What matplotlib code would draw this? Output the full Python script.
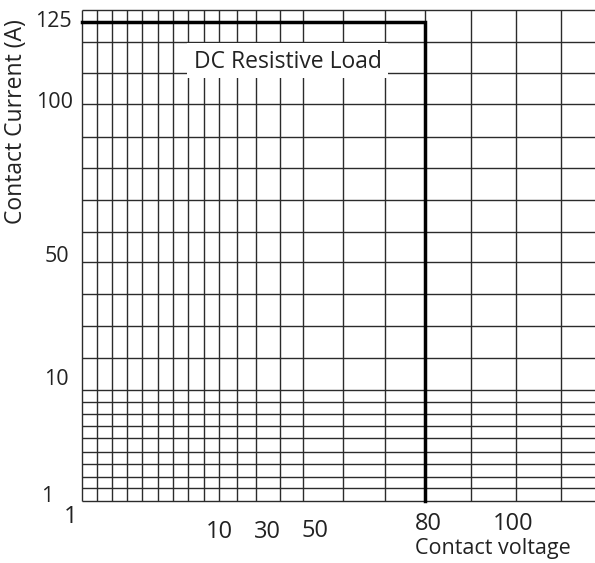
import numpy as np
import matplotlib.pyplot as plt
from matplotlib.patches import Rectangle

# chart values
volt_ticks = [1, 10, 30, 50, 80, 100]
volt_labels = ["1", "10", "30", "50", "80", "100"]
current_ticks = [1, 10, 50, 100, 125]
current_labels = ["1", "10", "50", "100", "125"]
# safe operating boundary (DC resistive load)
boundary_voltage = [1, 80, 80]
boundary_current = [125, 125, 1]
region_label = "DC Resistive Load"

# graph paper layout (pixels from bottom-left corner of the grid)
W, H = 513.3, 490.7
x_anchor = [0, 137.6, 185.3, 233.3, 343.3, 434.3]
y_anchor = [0, 124, 245.7, 396.4, 479]
v_grid = [0, 15, 30, 45.3, 60.6, 76, 91, 106.6, 122, 137.6, 155.6, 174.3,
          198.3, 221, 261.6, 303.3, 343.3, 389, 434.3, 479.3]
h_grid = [0, 12.4, 24, 36.7, 49, 62.4, 74.7, 86.7, 99, 110.7, 143, 174.7,
          206.7, 238.4, 269, 300.7, 332.4, 364, 396.4, 428, 459, 490.7]


def piecewise(src, dst):
    src = np.asarray(src, float)
    dst = np.asarray(dst, float)
    lo = (dst[1] - dst[0]) / (src[1] - src[0])
    hi = (dst[-1] - dst[-2]) / (src[-1] - src[-2])

    def f(v):
        v = np.asarray(v, float)
        out = np.interp(v, src, dst)
        out = np.where(v < src[0], dst[0] + (v - src[0]) * lo, out)
        out = np.where(v > src[-1], dst[-1] + (v - src[-1]) * hi, out)
        return out
    return f


fx, fx_inv = piecewise(volt_ticks, x_anchor), piecewise(x_anchor, volt_ticks)
fy, fy_inv = piecewise(current_ticks, y_anchor), piecewise(y_anchor, current_ticks)

plt.rcParams['font.family'] = ['Open Sans', 'DejaVu Sans']
text_color = '#222222'
grid_color = '#2b2b2b'

fig = plt.figure(figsize=(5.95, 5.63), dpi=100)
ax = fig.add_axes([81.7 / 595, 62.3 / 563, W / 595, H / 563])
ax.set_xscale('function', functions=(fx, fx_inv))
ax.set_yscale('function', functions=(fy, fy_inv))
ax.set_xlim(float(fx_inv(0)), float(fx_inv(W)))
ax.set_ylim(float(fy_inv(0)), float(fy_inv(H)))
ax.set_xticks([])
ax.set_yticks([])
ax.minorticks_off()
for s in ax.spines.values():
    s.set_visible(False)

ax.vlines(np.array(v_grid) / W, 0, 1, transform=ax.transAxes,
          colors=grid_color, lw=1.0, clip_on=False, zorder=1)
ax.hlines(np.array(h_grid) / H, 0, 1, transform=ax.transAxes,
          colors=grid_color, lw=1.0, clip_on=False, zorder=1)

# white label box
bx0, bx1, by0, by1 = 105.3, 306.3, 422.7, 457.7
ax.add_patch(Rectangle((bx0 / W, by0 / H), (bx1 - bx0) / W, (by1 - by0) / H,
                       transform=ax.transAxes, facecolor='white',
                       edgecolor='none', zorder=3))
ax.text(205.8 / W, 432.4 / H, region_label, transform=ax.transAxes,
        ha='center', va='baseline', fontsize=16.5, color=text_color, zorder=4)

ax.plot(boundary_voltage, boundary_current, color='black', lw=2.5,
        solid_joinstyle='miter', clip_on=False, zorder=5)

# tick labels
x_offsets = [(-10.7, -22.6), (0, -37), (0, -37), (0, -36), (3, -29.3), (-3, -29.3)]
for v, lbl, (dx, dy) in zip(volt_ticks, volt_labels, x_offsets):
    ax.annotate(lbl, xy=(v, 0), xycoords=('data', 'axes fraction'),
                xytext=(dx, dy), textcoords='offset pixels',
                ha='center', va='baseline', fontsize=17, color=text_color)

y_offsets = [(-28.7, -1.6), (-12.7, -8.3), (-12.7, -6.7), (-9, -4), (-10, -5)]
for c, lbl, (dx, dy) in zip(current_ticks, current_labels, y_offsets):
    ax.annotate(lbl, xy=(0, c), xycoords=('axes fraction', 'data'),
                xytext=(dx, dy), textcoords='offset pixels',
                ha='right', va='baseline', fontsize=15.5, color=text_color)

fig.text(493 / 595, 1 - 554 / 563, "Contact voltage", ha='center',
         va='baseline', fontsize=15.5, color=text_color)
fig.text(16 / 595, 1 - 121.5 / 563, "Contact Current (A)", rotation=90,
         ha='center', va='center', fontsize=16.5, color=text_color)

fig.savefig("out.png", dpi=100)
